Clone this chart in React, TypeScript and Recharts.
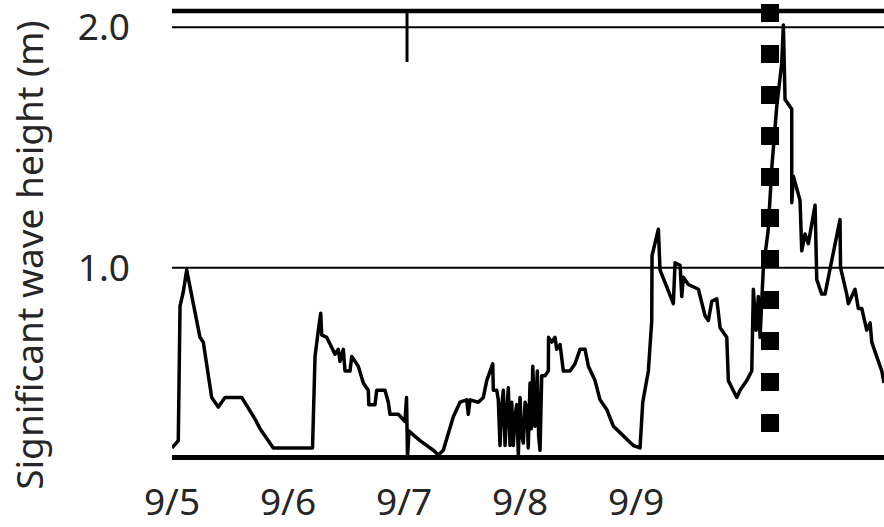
import React from 'react';
import { LineChart, Line, XAxis, YAxis, ReferenceLine, Label } from 'recharts';

// hours since 9/5 00:00
const hours = [
  0, 1.3, 1.66, 2.34, 3.04, 5.79, 6.48, 8.21, 9.58, 10.97, 14.42, 17.17, 18.21, 20.96,
  29.07, 29.59, 30.27, 30.77, 30.97, 32.0, 33.72, 34.4, 34.76, 35.44, 35.79, 36.83, 37.18,
  38.54, 39.58, 40.61, 40.72, 42.0, 42.35, 44.07, 44.75, 45.1, 46.82, 48.21, 48.52, 48.72,
  49.03, 51.31, 54.06, 55.1, 56.13, 58.2, 59.59, 60.97, 61.3, 61.66, 63.37, 64.41, 65.11,
  66.35, 66.48, 67.18, 67.51, 67.86, 68.2, 68.55, 68.9, 69.25, 69.58, 69.93, 70.28, 70.62,
  70.95, 71.32, 71.65, 72.0, 72.35, 72.69, 73.05, 73.38, 73.7, 74.07, 74.35, 74.63, 75.1,
  75.58, 75.85, 76.14, 76.49, 77.17, 77.86, 77.9, 78.56,
  79.24, 79.59, 80.28, 80.96, 82.35, 83.38, 84.41, 85.45, 86.14, 87.52, 88.55, 89.94, 91.31,
  93.38, 95.44, 96.83, 97.39, 98.55, 99.25, 99.31, 100.62, 100.97, 102.36, 103.72, 104.07,
  105.11, 105.46, 105.79, 106.83, 108.9, 110.28, 110.97, 111.67, 112.7, 113.39, 114.77,
  115.1, 116.84, 117.52, 118.9, 119.94, 120.27, 120.83, 121.3, 121.66, 122.34, 123.31,
  124.14, 125.11, 126.14, 126.48, 126.83, 128.21, 128.22, 128.55, 129.93, 130.28, 130.97,
  131.65, 133.04, 133.39, 134.42, 135.1, 136.49, 138.2, 138.31, 139.59, 139.92, 141.31,
  141.99, 142.7, 143.73, 144.42, 144.77, 145.8, 146.84, 147.3,
];

// significant wave height (m)
const waveHeight = [
  0.25, 0.28, 0.84, 0.9, 0.99, 0.71, 0.69, 0.46, 0.42, 0.46, 0.46, 0.37, 0.33, 0.25,
  0.25, 0.63, 0.74, 0.81, 0.72, 0.71, 0.64, 0.66, 0.61, 0.66, 0.57, 0.57, 0.63,
  0.59, 0.52, 0.49, 0.43, 0.43, 0.49, 0.49, 0.44, 0.39, 0.39, 0.36, 0.46, 0.21,
  0.32, 0.28, 0.24, 0.22, 0.24, 0.38, 0.44, 0.45, 0.39, 0.45, 0.44, 0.46, 0.53,
  0.6, 0.49, 0.49, 0.45, 0.26, 0.42, 0.49, 0.26, 0.4, 0.5, 0.26, 0.44, 0.26,
  0.38, 0.43, 0.22, 0.46, 0.3, 0.27, 0.44, 0.42, 0.25, 0.52, 0.33, 0.59, 0.34,
  0.57, 0.3, 0.24, 0.55, 0.55, 0.57, 0.71, 0.69,
  0.71, 0.66, 0.68, 0.57, 0.57, 0.6, 0.66, 0.66, 0.59, 0.53, 0.45, 0.41, 0.34,
  0.3, 0.26, 0.25, 0.44, 0.57, 0.78, 1.05, 1.16, 0.99, 0.92, 0.85, 1.02,
  1.01, 0.88, 0.96, 0.93, 0.91, 0.8, 0.78, 0.86, 0.87, 0.75, 0.71,
  0.53, 0.46, 0.49, 0.53, 0.57, 0.91, 0.74, 0.88, 0.71, 1.0, 1.15,
  1.43, 1.67, 1.85, 2.01, 1.7, 1.66, 1.27, 1.38, 1.28, 1.07, 1.14,
  1.1, 1.26, 0.95, 0.89, 0.89, 1.03, 1.2, 1.0, 0.89, 0.85, 0.91,
  0.83, 0.83, 0.74, 0.77, 0.69, 0.63, 0.57, 0.52,
];

const tickHours = [0, 24, 48, 72, 96];
const tickLabels = ['9/5', '9/6', '9/7', '9/8', '9/9'];
const yTicks = [1, 2];
const xDomain: [number, number] = [0, 147.3];
const yDomain: [number, number] = [0.21, 2.068];

// event markers
const markerHour = 48.62;
const markerFrom = 2.068;
const markerTo = 1.856;
const eventHour = 123.72;
const eventFrom = 0.316;
const eventTo = 2.097;

const data = hours.map((h, i) => ({ h, v: waveHeight[i] }));

const FONT = '"Noto Sans", "Open Sans", sans-serif';
const TEXT = '#262626';

const YLabel = () => (
  <text
    x={28}
    y={255}
    transform="rotate(-90, 28, 255)"
    textAnchor="middle"
    dominantBaseline="central"
    fontSize={37}
    fontFamily={FONT}
    fill={TEXT}
  >
    Significant wave height (m)
  </text>
);

export default function App() {
  return (
    <div
      style={{
        position: 'absolute',
        left: 0,
        top: 0,
        width: 884,
        height: 527,
        overflow: 'hidden',
        background: '#fff',
      }}
    >
      <LineChart width={884} height={527} data={data} margin={{ top: 11, right: 0, bottom: 0, left: 0 }}>
        <XAxis
          type="number"
          dataKey="h"
          domain={xDomain}
          allowDataOverflow
          ticks={tickHours}
          interval={0}
          tickFormatter={(v: number) => tickLabels[tickHours.indexOf(v)] ?? ''}
          tickLine={false}
          tickSize={0}
          tickMargin={31}
          height={69.5}
          axisLine={{ stroke: '#000', strokeWidth: 5 }}
          tick={{ fontSize: 37, fill: TEXT, fontFamily: FONT }}
        />
        <YAxis
          type="number"
          domain={yDomain}
          allowDataOverflow
          ticks={yTicks}
          interval={0}
          tickFormatter={(v: number) => v.toFixed(1)}
          width={172}
          axisLine={false}
          tickLine={false}
          tickSize={0}
          tickMargin={42}
          tick={{ fontSize: 37, fill: TEXT, fontFamily: FONT }}
        >
          <Label content={<YLabel />} />
        </YAxis>
        <ReferenceLine y={yTicks[0]} stroke="#000" strokeWidth={2} />
        <ReferenceLine y={yTicks[1]} stroke="#000" strokeWidth={2} />
        <ReferenceLine y={yDomain[1]} stroke="#000" strokeWidth={4.5} />
        <ReferenceLine
          segment={[
            { x: markerHour, y: markerFrom },
            { x: markerHour, y: markerTo },
          ]}
          stroke="#000"
          strokeWidth={3}
          ifOverflow="visible"
        />
        <ReferenceLine
          segment={[
            { x: eventHour, y: eventFrom },
            { x: eventHour, y: eventTo },
          ]}
          stroke="#000"
          strokeWidth={18}
          strokeDasharray="18 23"
          ifOverflow="visible"
        />
        <Line
          type="linear"
          dataKey="v"
          stroke="#000"
          strokeWidth={3.5}
          dot={false}
          activeDot={false}
          isAnimationActive={false}
          strokeLinejoin="round"
        />
      </LineChart>
    </div>
  );
}
